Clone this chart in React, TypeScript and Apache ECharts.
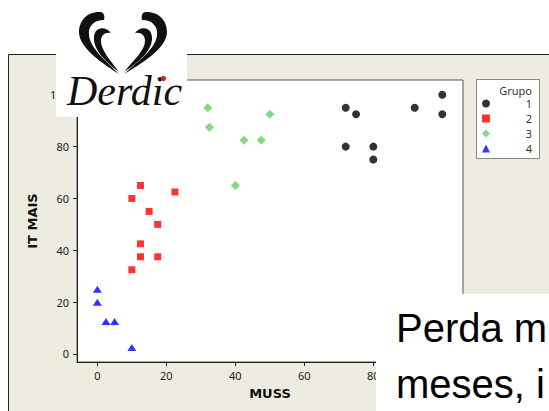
import React, { useEffect, useRef } from "react";
import * as echarts from "echarts";

// ---- data ----
const seriesNames = ["1", "2", "3", "4"];
const grupo1X = [72, 75, 92, 100, 100, 72, 80, 80];
const grupo1Y = [95, 92.5, 95, 100, 92.5, 80, 80, 75];
const grupo2X = [12.5, 22.5, 10, 15, 17.5, 12.5, 12.5, 17.5, 10];
const grupo2Y = [65, 62.5, 60, 55, 50, 42.5, 37.5, 37.5, 32.5];
const grupo3X = [32, 50, 32.5, 42.5, 47.5, 40];
const grupo3Y = [95, 92.5, 87.5, 82.5, 82.5, 65];
const grupo4X = [0, 0, 2.5, 5, 10];
const grupo4Y = [25, 20, 12.5, 12.5, 2.5];
const xTicks = [0, 20, 40, 60, 80];
const yTicks = [0, 20, 40, 60, 80, 100];
const xTitle = "MUSS";
const yTitle = "IT MAIS";
const legendTitle = "Grupo";
const logoText = "Derdic";
const slideLine1 = "Perda m";
const slideLine2 = "meses, i";

const pairs = (xs: number[], ys: number[]) => xs.map((x, i) => [x, ys[i]]);

const leftOuter =
  "M101 12 C88 11 79 20 79 32 C79 46 97 60 119 74 C105 60 90 48 89 35 C88 26 94 20 104 20 C105 16 104 13 101 12 Z";
const leftInner =
  "M111 33 C106 26 95 26 94 37 C93 50 106 62 119 72 C110 60 101 50 101 41 C101 35 105 32 111 33 Z";
const rightOuter =
  "M145 12 C158 11 167 20 167 32 C167 46 148 60 124 74 C140 60 156 48 157 35 C158 26 152 20 142 20 C141 16 142 13 145 12 Z";
const rightInner =
  "M135 33 C140 26 151 26 152 37 C153 50 139 62 124 72 C134 60 145 50 145 41 C145 35 141 32 135 33 Z";

echarts.graphic.registerShape("logoLO", echarts.graphic.extendPath(leftOuter, {}));
echarts.graphic.registerShape("logoLI", echarts.graphic.extendPath(leftInner, {}));
echarts.graphic.registerShape("logoRO", echarts.graphic.extendPath(rightOuter, {}));
echarts.graphic.registerShape("logoRI", echarts.graphic.extendPath(rightInner, {}));

export default function App() {
  const ref = useRef<HTMLDivElement>(null);
  useEffect(() => {
    if (!ref.current) return;
    const chart = echarts.init(ref.current, undefined, { renderer: "svg" });
    const axisFont = { fontFamily: "Noto Sans", fontSize: 11, color: "#222" };
    const titleFont = { fontFamily: "DejaVu Sans", fontSize: 13, fontWeight: "bold" as const, color: "#111" };
    chart.setOption({
      animation: false,
      backgroundColor: "#ffffff",
      grid: {
        left: 77,
        top: 80,
        width: 386,
        height: 282,
        show: true,
        backgroundColor: "#ffffff",
        borderColor: "#555",
        borderWidth: 1,
      },
      xAxis: {
        type: "value",
        min: -5.9,
        max: 106,
        splitLine: { show: false },
        axisLine: { show: true, onZero: false, lineStyle: { color: "#222" } },
        axisTick: { show: true, length: 4, customValues: xTicks, lineStyle: { color: "#222" } },
        axisLabel: { ...axisFont, margin: 8, customValues: xTicks },
        name: xTitle,
        nameLocation: "middle",
        nameGap: 25,
        nameTextStyle: titleFont,
      },
      yAxis: {
        type: "value",
        min: -3.1,
        max: 105.7,
        splitLine: { show: false },
        axisLine: { show: true, onZero: false, lineStyle: { color: "#222" } },
        axisTick: { show: true, length: 4, customValues: yTicks, lineStyle: { color: "#222" } },
        axisLabel: { ...axisFont, margin: 8, customValues: yTicks },
        name: yTitle,
        nameLocation: "middle",
        nameRotate: 90,
        nameGap: 38,
        nameTextStyle: titleFont,
      },
      legend: {
        orient: "vertical",
        left: 482,
        top: 97,
        padding: 0,
        itemWidth: 8,
        itemHeight: 8,
        itemGap: 2,
        data: seriesNames,
        formatter: (n: string) => `{n|${n}}`,
        textStyle: {
          color: "#333",
          fontFamily: "Noto Sans",
          fontSize: 11,
          lineHeight: 13,
          rich: { n: { width: 37, align: "right", fontSize: 11, fontFamily: "Noto Sans", color: "#333", lineHeight: 13 } },
        },
      },
      series: [
        { name: seriesNames[0], type: "scatter", data: pairs(grupo1X, grupo1Y), symbol: "circle", symbolSize: 8, itemStyle: { color: "#000000" } },
        { name: seriesNames[1], type: "scatter", data: pairs(grupo2X, grupo2Y), symbol: "rect", symbolSize: 7, itemStyle: { color: "#ff0000" } },
        { name: seriesNames[2], type: "scatter", data: pairs(grupo3X, grupo3Y), symbol: "diamond", symbolSize: [9, 9], itemStyle: { color: "#66cc66" } },
        { name: seriesNames[3], type: "scatter", data: pairs(grupo4X, grupo4Y), symbol: "triangle", symbolSize: [9, 7], itemStyle: { color: "#0000ff" } },
      ],
      graphic: [
        { type: "rect", z: -100, shape: { x: 8.5, y: 54.5, width: 600, height: 400 }, style: { fill: "#eeebe1", stroke: "#222", lineWidth: 1 } },
        { type: "rect", z: 1, shape: { x: 476.5, y: 79.5, width: 63, height: 79 }, style: { fill: "#ffffff", stroke: "#888", lineWidth: 1 } },
        { type: "text", z: 5, x: 532, y: 90, style: { text: legendTitle, fill: "#333", font: "11px 'Noto Sans'", align: "right", verticalAlign: "middle" } },
        // logo
        { type: "rect", z: 100, shape: { x: 56, y: 0, width: 131, height: 117 }, style: { fill: "#ffffff" } },
        { type: "logoLO", z: 101, x: 0, y: 0, style: { fill: "#111" } },
        { type: "logoLI", z: 101, x: 0, y: 0, style: { fill: "#111" } },
        { type: "logoRO", z: 101, x: 0, y: 0, style: { fill: "#111" } },
        { type: "logoRI", z: 101, x: 0, y: 0, style: { fill: "#111" } },
        { type: "text", z: 101, x: 67, y: 91, style: { text: logoText, fill: "#111", font: "italic 42px 'Liberation Serif'", align: "left", verticalAlign: "middle" } },
        { type: "circle", z: 102, shape: { cx: 163.5, cy: 78.5, r: 2.6 }, style: { fill: "#e0202a" } },
        // slide text box
        { type: "rect", z: 100, shape: { x: 376, y: 294, width: 200, height: 200 }, style: { fill: "#ffffff" } },
        { type: "text", z: 101, x: 396, y: 328, style: { text: slideLine1, fill: "#000", font: "40px 'Liberation Sans'", align: "left", verticalAlign: "middle" } },
        { type: "text", z: 101, x: 396, y: 384, style: { text: slideLine2, fill: "#000", font: "40px 'Liberation Sans'", align: "left", verticalAlign: "middle" } },
      ],
    });
    return () => chart.dispose();
  }, []);
  return <div ref={ref} style={{ position: "fixed", left: 0, top: 0, width: 549, height: 411 }} />;
}
